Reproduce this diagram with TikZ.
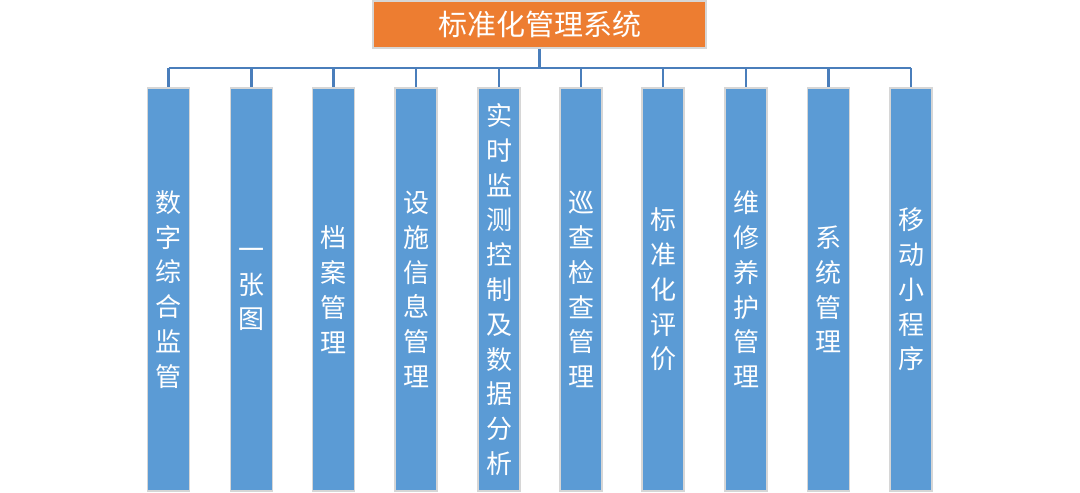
\documentclass[tikz,border=0pt]{standalone}
\usepackage{fontspec}
\newfontfamily\cjk{Noto Sans CJK SC}
\definecolor{orangebox}{HTML}{ED7D31}
\definecolor{bluebox}{HTML}{5B9BD5}
\definecolor{linkblue}{HTML}{4A7EBB}
\definecolor{edgegrey}{HTML}{D6D6D6}
\tikzset{
  titlebox/.style={draw=edgegrey, line width=1.5pt, fill=orangebox, text=white,
    minimum width=333pt, minimum height=47pt, inner sep=0pt,
    font=\cjk\fontsize{29}{30}\selectfont},
  colbox/.style={draw=edgegrey, line width=1.5pt, fill=bluebox, text=white,
    minimum width=42pt, minimum height=403pt, inner sep=0pt, align=center,
    font=\cjk\fontsize{26}{34.8}\selectfont},
  link/.style={draw=linkblue, line width=2.2pt}
}
\begin{document}
\begin{tikzpicture}[x=1pt,y=-1pt]
\useasboundingbox (0,0) rectangle (1080,493);
\node[titlebox] (top) at (539.5,24.5) {标准化管理系统};
\coordinate (bus) at (539.5,68);
\foreach \n/\x/\t in {
  c1/168.5/{数\\字\\综\\合\\监\\管},
  c2/251.5/{一\\张\\图},
  c3/333.5/{档\\案\\管\\理},
  c4/416/{设\\施\\信\\息\\管\\理},
  c5/499/{实\\时\\监\\测\\控\\制\\及\\数\\据\\分\\析},
  c6/581/{巡\\查\\检\\查\\管\\理},
  c7/663/{标\\准\\化\\评\\价},
  c8/746/{维\\修\\养\\护\\管\\理},
  c9/828.5/{系\\统\\管\\理},
  c10/911/{移\\动\\小\\程\\序}}{
  \node[colbox] (\n) at (\x,289.5) {\t};
  \coordinate (\n-j) at (\x,68);
  \draw[link] (\n-j) -- (\n.north);
}
\draw[link] (top.south) -- (bus);
\draw[link] (c1-j) -- (c10-j);
\end{tikzpicture}
\end{document}
